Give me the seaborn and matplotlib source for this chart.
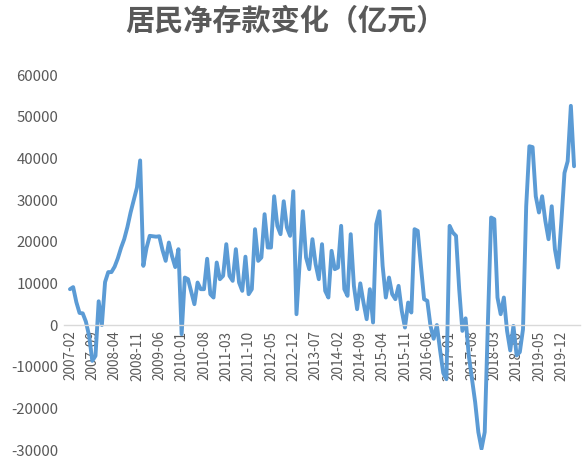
import matplotlib
matplotlib.use("Agg")
import matplotlib.pyplot as plt
import seaborn as sns
import pandas as pd

# monthly net change of household deposits, 2007-02 .. 2020-04 (100 million yuan)
start_month = "2007-02"
deposit_change = [
    8600, 9100, 5500, 2900, 2800, 800, -2600, -8600, -7400, 5700,
    0, 10300, 12700, 12700, 14000, 16000, 18500, 20600, 23500, 27000,
    30000, 33000, 39500, 14200, 18500, 21400, 21300, 21200, 21300, 18000,
    15400, 19800, 16500, 13900, 18200, -2200, 11400, 11000, 8000, 5000,
    10200, 8600, 8600, 15900, 7400, 6600, 15000, 11000, 11800, 19400,
    11800, 10600, 18200, 10200, 8200, 16400, 7400, 8600, 23000, 15400,
    16200, 26600, 18600, 18600, 30900, 23800, 21800, 29700, 23400, 21400,
    32100, 2600, 15000, 27300, 16200, 13400, 20600, 14600, 11000, 19400,
    8200, 6600, 17800, 13400, 13800, 23800, 8600, 7000, 21800, 9400,
    3800, 10000, 5400, 1400, 8600, 600, 24200, 27300, 14200, 6600,
    11400, 7400, 6200, 9400, 3400, -600, 5400, 3000, 23000, 22600,
    14200, 6200, 5800, -200, -3300, 0, -6000, -11500, -13000, 23800,
    22200, 21400, 8600, -1400, 1600, -7300, -12900, -18500, -25700, -29700,
    -25700, 600, 25800, 25400, 6600, 2600, 6600, -1400, -6100, -200,
    -7300, -6500, -1000, 28500, 42900, 42700, 30900, 27000, 30900, 25000,
    20600, 28500, 18200, 13800, 24600, 36500, 39300, 52600, 38100,
]
y_ticks = [-30000, -20000, -10000, 0, 10000, 20000, 30000, 40000, 50000, 60000]
tick_every = 7

months = pd.period_range(start_month, periods=len(deposit_change), freq="M")
df = pd.DataFrame({"idx": range(len(deposit_change)),
                   "month": months.strftime("%Y-%m"),
                   "value": deposit_change})

sns.set_theme(style="white")
plt.rcParams["font.family"] = ["Noto Sans CJK SC", "DejaVu Sans"]
plt.rcParams["axes.unicode_minus"] = False

fig = plt.figure(figsize=(5.86, 4.63), dpi=100)
ax = fig.add_axes([0.1085, 0.028, 0.882, 0.810])

sns.lineplot(data=df, x="idx", y="value", ax=ax, color="#5B9BD5", linewidth=2.8)

# x axis crosses at zero, like the original spreadsheet chart
for side in ["top", "right", "left"]:
    ax.spines[side].set_visible(False)
ax.spines["bottom"].set_position(("data", 0))
ax.spines["bottom"].set_color("#D9D9D9")
ax.spines["bottom"].set_linewidth(1)

ax.set_xlim(-2, 160)
ax.set_ylim(-30000, 60000)
ax.set_yticks(y_ticks)
ax.set_yticklabels([str(v) for v in y_ticks])
ax.set_xticks(list(df["idx"][::tick_every]))
ax.set_xticklabels(list(df["month"][::tick_every]))
ax.tick_params(axis="x", length=0, pad=4, labelsize=9.8, labelcolor="#595959",
               labelrotation=90)
ax.tick_params(axis="y", length=0, pad=4, labelsize=10.8, labelcolor="#595959")
ax.set_xlabel("")
ax.set_ylabel("")

fig.text(0.488, 0.955, "居民净存款变化（亿元）", ha="center", va="center",
         fontsize=21, fontweight="heavy", color="#595959")

fig.savefig("out.png", dpi=100)
